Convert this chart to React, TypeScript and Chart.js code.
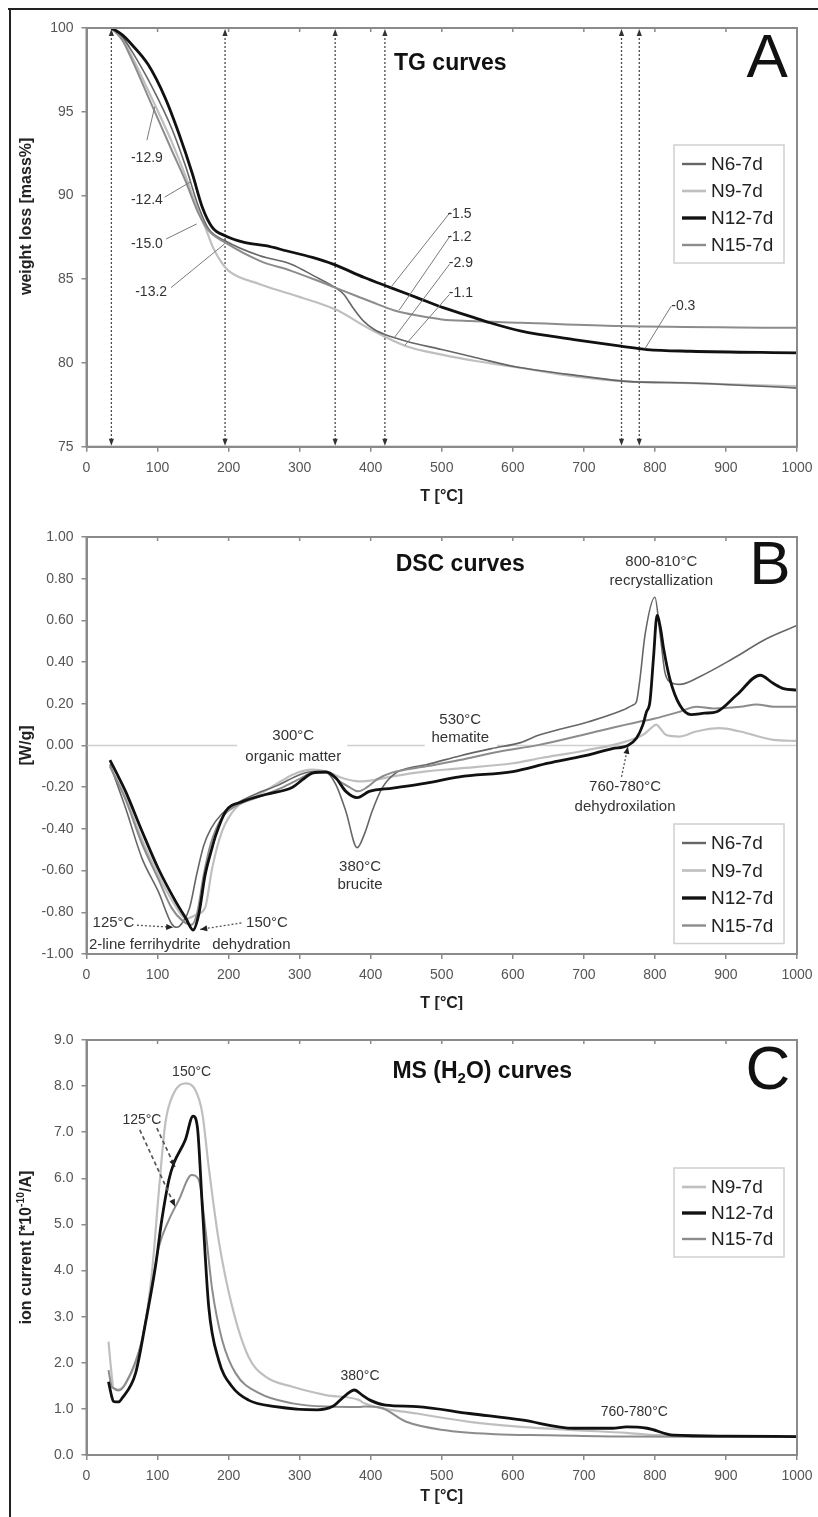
import React, { useEffect, useRef } from "react";
import { Chart, registerables } from "chart.js";

Chart.register(...registerables);

const FONT = "'Liberation Sans', Arial, Helvetica, sans-serif";

type Pt = [number, number];

// ---------- shared axis ----------
const tempMin = 0;
const tempMax = 1000;
const tempStep = 100;

// ---------- series names ----------
const namesAll = ["N6-7d", "N9-7d", "N12-7d", "N15-7d"];
const namesMS = ["N9-7d", "N12-7d", "N15-7d"];

// ---------- A: TG curves (weight loss, mass%) ----------
const tgN6: Pt[] = [[35,100],[50,99.5],[64,98.6],[92,96.5],[120,94.0],[139,91.8],[158,89.3],[172,88.0],[195,87.3],[244,86.4],[288,85.9],[320,85.2],[350,84.5],[362,84.1],[375,83.3],[390,82.5],[405,82.0],[420,81.7],[450,81.3],[500,80.8],[550,80.3],[600,79.8],[700,79.2],[760,78.9],[850,78.8],[1000,78.5]];
const tgN9: Pt[] = [[35,100],[50,99.4],[64,98.3],[92,95.8],[120,93.2],[139,91.2],[158,89.0],[168,88.0],[178,86.9],[190,86.0],[200,85.5],[244,84.7],[288,84.1],[350,83.2],[400,82.0],[450,81.0],[500,80.5],[550,80.1],[612,79.7],[686,79.2],[760,78.9],[850,78.8],[1000,78.6]];
const tgN12: Pt[] = [[35,100],[50,99.6],[64,99.0],[87,97.8],[111,95.8],[130,93.7],[149,91.3],[163,89.3],[177,88.1],[195,87.6],[222,87.2],[252,87.0],[281,86.7],[318,86.3],[347,85.9],[391,85.1],[428,84.5],[465,83.9],[502,83.3],[539,82.8],[568,82.4],[612,81.9],[686,81.4],[752,81.0],[789,80.8],[850,80.7],[1000,80.6]];
const tgN15: Pt[] = [[35,100],[50,99.3],[64,98.1],[92,95.4],[120,92.7],[139,90.9],[158,88.9],[172,87.9],[195,87.2],[244,86.1],[288,85.5],[320,85.0],[350,84.5],[380,84.0],[410,83.5],[436,83.1],[470,82.8],[500,82.6],[539,82.5],[612,82.4],[750,82.2],[1000,82.1]];
const tgStepTemps = [35, 195, 350, 420, 753, 778];
const tgLossLabels = ["-12.9", "-12.4", "-15.0", "-13.2", "-1.5", "-1.2", "-2.9", "-1.1", "-0.3"];

// ---------- B: DSC curves (W/g) ----------
const dscN6: Pt[] = [[33,-0.09],[55,-0.3],[78,-0.54],[101,-0.70],[120,-0.856],[127,-0.872],[135,-0.85],[145,-0.78],[155,-0.62],[165,-0.48],[175,-0.4],[190,-0.33],[210,-0.28],[240,-0.23],[270,-0.19],[300,-0.14],[320,-0.125],[338,-0.13],[351,-0.188],[365,-0.315],[381,-0.49],[391,-0.426],[402,-0.315],[416,-0.204],[435,-0.132],[454,-0.108],[478,-0.092],[525,-0.05],[570,-0.015],[612,0.015],[637,0.05],[708,0.115],[755,0.17],[769,0.194],[774,0.21],[779,0.32],[786,0.528],[800,0.711],[807,0.544],[814,0.353],[821,0.305],[835,0.293],[863,0.33],[910,0.417],[957,0.512],[1000,0.576]];
const dscN9: Pt[] = [[33,-0.1],[55,-0.25],[78,-0.45],[101,-0.62],[120,-0.74],[141,-0.83],[155,-0.81],[167,-0.777],[177,-0.586],[191,-0.41],[210,-0.3],[243,-0.235],[266,-0.188],[290,-0.14],[318,-0.116],[337,-0.124],[360,-0.156],[384,-0.172],[407,-0.164],[431,-0.148],[478,-0.124],[525,-0.11],[600,-0.085],[640,-0.06],[700,-0.025],[760,0.02],[785,0.055],[795,0.085],[802,0.1],[809,0.075],[816,0.05],[835,0.043],[858,0.067],[891,0.083],[920,0.067],[967,0.027],[1000,0.022]];
const dscN12: Pt[] = [[33,-0.07],[45,-0.15],[55,-0.22],[78,-0.41],[101,-0.59],[125,-0.745],[140,-0.83],[150,-0.885],[158,-0.81],[167,-0.62],[176,-0.5],[182,-0.43],[196,-0.315],[219,-0.27],[252,-0.235],[290,-0.2],[304,-0.164],[318,-0.132],[337,-0.127],[351,-0.156],[365,-0.22],[381,-0.25],[398,-0.22],[431,-0.204],[478,-0.18],[525,-0.15],[600,-0.125],[650,-0.085],[700,-0.05],[740,-0.015],[762,0.0],[774,0.035],[783,0.099],[788,0.16],[793,0.21],[798,0.42],[803,0.624],[808,0.56],[812,0.47],[821,0.32],[835,0.194],[851,0.148],[870,0.155],[887,0.162],[915,0.242],[948,0.337],[967,0.297],[981,0.273],[1000,0.266]];
const dscN15: Pt[] = [[33,-0.1],[55,-0.26],[78,-0.47],[101,-0.64],[120,-0.78],[135,-0.84],[148,-0.86],[156,-0.8],[165,-0.62],[175,-0.47],[190,-0.35],[210,-0.29],[240,-0.25],[270,-0.21],[300,-0.16],[320,-0.13],[338,-0.13],[355,-0.17],[370,-0.2],[382,-0.22],[395,-0.2],[410,-0.16],[430,-0.13],[478,-0.1],[525,-0.07],[580,-0.03],[637,0.003],[708,0.059],[779,0.115],[797,0.127],[835,0.162],[858,0.186],[882,0.178],[920,0.186],[943,0.197],[967,0.186],[1000,0.186]];

// ---------- C: MS (H2O) curves (ion current) ----------
const msN9: Pt[] = [[31,2.46],[35,1.8],[38,1.45],[45,1.42],[55,1.55],[78,2.49],[92,3.94],[102,5.75],[111,7.2],[123,7.85],[139,8.06],[153,7.92],[163,7.41],[172,6.25],[186,4.66],[205,3.22],[228,2.13],[252,1.70],[290,1.48],[337,1.30],[384,1.19],[391,1.12],[465,0.9],[539,0.72],[612,0.61],[686,0.54],[760,0.48],[804,0.43],[1000,0.40]];
const msN12: Pt[] = [[31,1.59],[35,1.3],[38,1.16],[45,1.15],[50,1.23],[69,1.77],[83,2.86],[97,4.08],[106,5.1],[116,5.97],[123,6.33],[139,6.83],[150,7.35],[156,7.12],[163,5.39],[172,3.22],[186,2.06],[205,1.48],[228,1.19],[266,1.05],[325,0.98],[346,1.05],[365,1.3],[377,1.41],[388,1.3],[399,1.19],[421,1.08],[465,1.05],[539,0.9],[612,0.76],[686,0.58],[740,0.58],[760,0.61],[789,0.58],[826,0.43],[900,0.41],[1000,0.40]];
const msN15: Pt[] = [[31,1.84],[35,1.5],[38,1.45],[45,1.4],[55,1.55],[78,2.49],[92,3.7],[102,4.52],[116,5.1],[130,5.53],[148,6.07],[158,5.97],[167,4.95],[177,3.58],[191,2.49],[210,1.77],[243,1.34],[290,1.12],[337,1.05],[384,1.04],[391,1.05],[413,1.03],[450,0.72],[502,0.54],[575,0.45],[650,0.43],[760,0.40],[1000,0.39]];

// ---------- styles ----------
const STYLE: Record<string, { color: string; width: number; order: number }> = {
  "N6-7d": { color: "#666666", width: 1.6, order: 3 },
  "N9-7d": { color: "#bfbfbf", width: 2.2, order: 4 },
  "N12-7d": { color: "#111111", width: 2.8, order: 0 },
  "N15-7d": { color: "#8c8c8c", width: 2.0, order: 2 },
};
const AXIS = "#8a8a8a";
const TEXT = "#333333";
const CW = 810;

type Seg = { t: string; s?: "sub" | "sup" };
interface Note { text: string; at: Pt; size: number }
interface Leader { from: Pt; to: Pt; kind: "solid" | "dotted" | "dashed"; arrow?: boolean }
interface Panel {
  key: string; top: number; height: number; padTop: number; xAxisH: number;
  yMin: number; yMax: number; yStep: number; yDec: number;
  series: { name: string; data: Pt[] }[];
  title: Seg[]; titleAt: Pt; letter: string; letterAt: Pt;
  yTitle: Seg[]; yTitleShift: number; xTitleOff: number;
  notes: Note[]; leaders: Leader[]; masks: [number, number][];
  legendNames: string[]; legendTop: number; legendStep: number;
  zeroLine: boolean; markers: number[];
}

const panels: Panel[] = [
  {
    key: "A", top: 8, height: 500, padTop: 20, xAxisH: 61.3,
    yMin: 75, yMax: 100, yStep: 5, yDec: 0,
    series: [
      { name: "N6-7d", data: tgN6 }, { name: "N9-7d", data: tgN9 },
      { name: "N12-7d", data: tgN12 }, { name: "N15-7d", data: tgN15 },
    ],
    title: [{ t: "TG curves" }], titleAt: [512, 97.9], letter: "A", letterAt: [958, 98.1],
    yTitle: [{ t: "weight loss [mass%]" }], yTitleShift: -21, xTitleOff: 50,
    notes: [
      { text: tgLossLabels[0], at: [85, 92.2], size: 14 },
      { text: tgLossLabels[1], at: [85, 89.7], size: 14 },
      { text: tgLossLabels[2], at: [85, 87.1], size: 14 },
      { text: tgLossLabels[3], at: [91, 84.2], size: 14 },
      { text: tgLossLabels[4], at: [525, 88.9], size: 14 },
      { text: tgLossLabels[5], at: [525, 87.5], size: 14 },
      { text: tgLossLabels[6], at: [527, 85.95], size: 14 },
      { text: tgLossLabels[7], at: [527, 84.16], size: 14 },
      { text: tgLossLabels[8], at: [840, 83.4], size: 14 },
    ],
    leaders: [
      { from: [85, 93.3], to: [96, 95.3], kind: "solid" },
      { from: [110, 89.9], to: [146, 90.8], kind: "solid" },
      { from: [112, 87.4], to: [155, 88.3], kind: "solid" },
      { from: [119, 84.5], to: [194, 87.1], kind: "solid" },
      { from: [512, 89.0], to: [428, 84.5], kind: "solid" },
      { from: [512, 87.6], to: [440, 83.15], kind: "solid" },
      { from: [511, 85.9], to: [433, 81.5], kind: "solid" },
      { from: [511, 84.1], to: [448, 81.05], kind: "solid" },
      { from: [823, 83.4], to: [786, 80.85], kind: "solid" },
    ],
    masks: [],
    legendNames: namesAll, legendTop: 117, legendStep: 27,
    zeroLine: false, markers: tgStepTemps,
  },
  {
    key: "B", top: 508, height: 502, padTop: 29, xAxisH: 56,
    yMin: -1, yMax: 1, yStep: 0.2, yDec: 2,
    series: [
      { name: "N6-7d", data: dscN6 }, { name: "N9-7d", data: dscN9 },
      { name: "N12-7d", data: dscN12 }, { name: "N15-7d", data: dscN15 },
    ],
    title: [{ t: "DSC curves" }], titleAt: [526, 0.866], letter: "B", letterAt: [962, 0.857],
    yTitle: [{ t: "[W/g]" }], yTitleShift: 0, xTitleOff: 50,
    notes: [
      { text: "800-810°C", at: [809, 0.882], size: 15 },
      { text: "recrystallization", at: [809, 0.791], size: 15 },
      { text: "300°C", at: [291, 0.045], size: 15 },
      { text: "organic matter", at: [291, -0.053], size: 15 },
      { text: "530°C", at: [526, 0.122], size: 15 },
      { text: "hematite", at: [526, 0.035], size: 15 },
      { text: "380°C", at: [385, -0.583], size: 15 },
      { text: "brucite", at: [385, -0.67], size: 15 },
      { text: "760-780°C", at: [758, -0.2], size: 15 },
      { text: "dehydroxilation", at: [758, -0.294], size: 15 },
      { text: "125°C", at: [38, -0.851], size: 15 },
      { text: "2-line ferrihydrite", at: [82, -0.954], size: 15 },
      { text: "150°C", at: [254, -0.851], size: 15 },
      { text: "dehydration", at: [232, -0.954], size: 15 },
    ],
    leaders: [
      { from: [753, -0.15], to: [762, -0.006], kind: "dotted", arrow: true },
      { from: [71, -0.862], to: [122, -0.872], kind: "dotted", arrow: true },
      { from: [218, -0.851], to: [160, -0.882], kind: "dotted", arrow: true },
    ],
    masks: [[212, 367], [476, 578]],
    legendNames: namesAll, legendTop: 287, legendStep: 27.5,
    zeroLine: true, markers: [],
  },
  {
    key: "C", top: 1010, height: 507, padTop: 30, xAxisH: 62,
    yMin: 0, yMax: 9, yStep: 1, yDec: 1,
    series: [
      { name: "N9-7d", data: msN9 }, { name: "N12-7d", data: msN12 }, { name: "N15-7d", data: msN15 },
    ],
    title: [{ t: "MS (H" }, { t: "2", s: "sub" }, { t: "O) curves" }], titleAt: [557, 8.31],
    letter: "C", letterAt: [959, 8.31],
    yTitle: [{ t: "ion current [*10" }, { t: "-10", s: "sup" }, { t: "/A]" }], yTitleShift: 0, xTitleOff: 42,
    notes: [
      { text: "150°C", at: [148, 8.31], size: 14 },
      { text: "125°C", at: [78, 7.27], size: 14 },
      { text: "380°C", at: [385, 1.70], size: 14 },
      { text: "760-780°C", at: [771, 0.94], size: 14 },
    ],
    leaders: [
      { from: [75, 7.05], to: [124.6, 5.39], kind: "dashed", arrow: true },
      { from: [99, 7.09], to: [124.6, 6.25], kind: "dashed", arrow: true },
    ],
    masks: [],
    legendNames: namesMS, legendTop: 128, legendStep: 26,
    zeroLine: false, markers: [],
  },
];

function drawRich(ctx: CanvasRenderingContext2D, segs: Seg[], cx: number, cy: number, size: number, weight: string, color: string, rotate: boolean) {
  ctx.save();
  ctx.translate(cx, cy);
  if (rotate) ctx.rotate(-Math.PI / 2);
  const small = size * 0.65;
  const widths = segs.map((sg) => {
    ctx.font = `${weight} ${sg.s ? small : size}px ${FONT}`;
    return ctx.measureText(sg.t).width;
  });
  const total = widths.reduce((a, b) => a + b, 0);
  let x = -total / 2;
  ctx.textBaseline = "middle";
  ctx.textAlign = "left";
  ctx.fillStyle = color;
  segs.forEach((sg, i) => {
    ctx.font = `${weight} ${sg.s ? small : size}px ${FONT}`;
    const dy = sg.s === "sub" ? size * 0.3 : sg.s === "sup" ? -size * 0.35 : 0;
    ctx.fillText(sg.t, x, dy);
    x += widths[i];
  });
  ctx.restore();
}

function arrowHead(ctx: CanvasRenderingContext2D, fx: number, fy: number, tx: number, ty: number, len: number, half: number, color: string) {
  const a = Math.atan2(ty - fy, tx - fx);
  ctx.save();
  ctx.fillStyle = color;
  ctx.beginPath();
  ctx.moveTo(tx, ty);
  ctx.lineTo(tx - len * Math.cos(a) + half * Math.sin(a), ty - len * Math.sin(a) - half * Math.cos(a));
  ctx.lineTo(tx - len * Math.cos(a) - half * Math.sin(a), ty - len * Math.sin(a) + half * Math.cos(a));
  ctx.closePath();
  ctx.fill();
  ctx.restore();
}

function makeDecor(p: Panel) {
  return {
    id: "decor" + p.key,
    beforeDatasetsDraw(chart: any) {
      const { ctx, chartArea: ca, scales } = chart;
      const xs = scales.x, ys = scales.y;
      ctx.save();
      if (p.zeroLine) {
        const y0 = ys.getPixelForValue(0);
        ctx.strokeStyle = "#cfcfcf";
        ctx.lineWidth = 1.6;
        ctx.beginPath();
        ctx.moveTo(ca.left, y0);
        ctx.lineTo(ca.right, y0);
        ctx.stroke();
        ctx.fillStyle = "#ffffff";
        p.masks.forEach(([a, b]) => {
          const xa = xs.getPixelForValue(a), xb = xs.getPixelForValue(b);
          ctx.fillRect(xa, y0 - 3, xb - xa, 6);
        });
      }
      p.markers.forEach((t) => {
        const x = xs.getPixelForValue(t);
        ctx.strokeStyle = "#4a4a4a";
        ctx.lineWidth = 1.3;
        ctx.setLineDash([2, 2]);
        ctx.beginPath();
        ctx.moveTo(x, ca.top + 6);
        ctx.lineTo(x, ca.bottom - 6);
        ctx.stroke();
        ctx.setLineDash([]);
        arrowHead(ctx, x, ca.top + 10, x, ca.top + 1, 7, 2.6, "#333");
        arrowHead(ctx, x, ca.bottom - 10, x, ca.bottom - 1, 7, 2.6, "#333");
      });
      ctx.restore();
    },
    afterDatasetsDraw(chart: any) {
      const { ctx, chartArea: ca, scales } = chart;
      const xs = scales.x, ys = scales.y;
      const px = (pt: Pt) => [xs.getPixelForValue(pt[0]), ys.getPixelForValue(pt[1])];
      ctx.save();
      ctx.strokeStyle = AXIS;
      ctx.lineWidth = 2;
      ctx.strokeRect(ca.left, ca.top, ca.right - ca.left, ca.bottom - ca.top);
      ctx.lineWidth = 1.5;
      for (let t = tempMin + tempStep; t < tempMax; t += tempStep) {
        const x = xs.getPixelForValue(t);
        ctx.beginPath();
        ctx.moveTo(x, ca.top);
        ctx.lineTo(x, ca.top + 4);
        ctx.stroke();
      }
      p.leaders.forEach((l) => {
        const [fx, fy] = px(l.from);
        const [tx, ty] = px(l.to);
        ctx.save();
        if (l.kind === "solid") { ctx.strokeStyle = "#7a7a7a"; ctx.lineWidth = 1; ctx.setLineDash([]); }
        else if (l.kind === "dotted") { ctx.strokeStyle = "#555"; ctx.lineWidth = 1.3; ctx.setLineDash([2, 2]); }
        else { ctx.strokeStyle = "#555"; ctx.lineWidth = 1.7; ctx.setLineDash([4, 3]); }
        ctx.beginPath();
        ctx.moveTo(fx, fy);
        ctx.lineTo(tx, ty);
        ctx.stroke();
        ctx.restore();
        if (l.arrow) arrowHead(ctx, fx, fy, tx, ty, 7, 3, "#222");
      });
      p.notes.forEach((n) => {
        const [x, y] = px(n.at);
        drawRich(ctx, [{ t: n.text }], x, y, n.size, "normal", TEXT, false);
      });
      const [tx, ty] = px(p.titleAt);
      drawRich(ctx, p.title, tx, ty, 23, "bold", "#111", false);
      const [lx0, ly0] = px(p.letterAt);
      drawRich(ctx, [{ t: p.letter }], lx0, ly0, 62, "normal", "#111", false);
      drawRich(ctx, p.yTitle, 19, (ca.top + ca.bottom) / 2 + p.yTitleShift, 16, "bold", "#222", true);
      drawRich(ctx, [{ t: "T [°C]" }], (ca.left + ca.right) / 2, ca.bottom + p.xTitleOff, 16, "bold", "#222", false);
      const n = p.legendNames.length;
      const bx = ca.right - 123;
      const by = ca.top + p.legendTop;
      const bw = 110;
      const bh = 19 + (n - 1) * p.legendStep + 18;
      ctx.fillStyle = "#ffffff";
      ctx.fillRect(bx, by, bw, bh);
      ctx.strokeStyle = "#d0d0d0";
      ctx.lineWidth = 1.5;
      ctx.strokeRect(bx, by, bw, bh);
      p.legendNames.forEach((nm, i) => {
        const st = STYLE[nm];
        const yy = by + 19 + i * p.legendStep;
        ctx.strokeStyle = st.color;
        ctx.lineWidth = Math.max(2.4, st.width * 1.2);
        ctx.beginPath();
        ctx.moveTo(bx + 8, yy);
        ctx.lineTo(bx + 32, yy);
        ctx.stroke();
        ctx.fillStyle = "#222";
        ctx.font = `19px ${FONT}`;
        ctx.textAlign = "left";
        ctx.textBaseline = "middle";
        ctx.fillText(nm, bx + 37, yy + 1);
      });
      ctx.restore();
    },
  };
}

function ChartPanel({ p }: { p: Panel }) {
  const ref = useRef<HTMLCanvasElement>(null);
  useEffect(() => {
    const canvas = ref.current;
    if (!canvas) return;
    const chart = new Chart(canvas, {
      type: "line",
      data: {
        datasets: p.series.map((s) => ({
          label: s.name,
          data: s.data.map(([x, y]) => ({ x, y })),
          borderColor: STYLE[s.name].color,
          backgroundColor: STYLE[s.name].color,
          borderWidth: STYLE[s.name].width,
          order: STYLE[s.name].order,
          pointRadius: 0,
          fill: false,
          cubicInterpolationMode: "monotone",
        })),
      },
      options: {
        animation: false,
        responsive: false,
        maintainAspectRatio: false,
        devicePixelRatio: 1,
        events: [],
        layout: { padding: { top: p.padTop, right: CW - 789, bottom: 0, left: 0 } },
        plugins: { legend: { display: false }, tooltip: { enabled: false }, title: { display: false } },
        scales: {
          x: {
            type: "linear",
            min: tempMin,
            max: tempMax,
            ticks: {
              stepSize: tempStep,
              autoSkip: false,
              maxRotation: 0,
              padding: 8,
              color: "#555",
              font: { family: FONT, size: 14 },
              callback: (v: any) => String(v),
            },
            grid: { drawOnChartArea: false, drawTicks: true, tickLength: 5, color: AXIS, lineWidth: 1.5 },
            border: { display: true, color: AXIS, width: 2 },
            afterFit: (s: any) => { s.height = p.xAxisH; s.paddingLeft = 0; s.paddingRight = 0; },
          },
          y: {
            type: "linear",
            min: p.yMin,
            max: p.yMax,
            ticks: {
              stepSize: p.yStep,
              padding: 8,
              color: "#555",
              font: { family: FONT, size: 14 },
              callback: (v: any) => {
                const n = Math.abs(Number(v)) < 1e-9 ? 0 : Number(v);
                return n.toFixed(p.yDec);
              },
            },
            grid: { drawOnChartArea: false, drawTicks: true, tickLength: 5, color: AXIS, lineWidth: 1.5 },
            border: { display: true, color: AXIS, width: 2 },
            afterFit: (s: any) => { s.width = 78.5; s.paddingTop = 0; s.paddingBottom = 0; },
          },
        },
      } as any,
      plugins: [makeDecor(p)],
    });
    return () => chart.destroy();
  }, []);
  return (
    <canvas
      ref={ref}
      width={CW}
      height={p.height}
      style={{ position: "absolute", left: 8, top: p.top, width: CW, height: p.height }}
    />
  );
}

export default function App() {
  return (
    <div style={{ position: "fixed", left: 0, top: 0, width: 818, height: 1517, overflow: "hidden", background: "#fff" }}>
      {panels.map((p) => (
        <ChartPanel key={p.key} p={p} />
      ))}
      <div style={{ position: "absolute", left: 8, top: 8, width: 810, height: 2, background: "#222" }} />
      <div style={{ position: "absolute", left: 9, top: 8, width: 2, height: 1509, background: "#222" }} />
    </div>
  );
}
